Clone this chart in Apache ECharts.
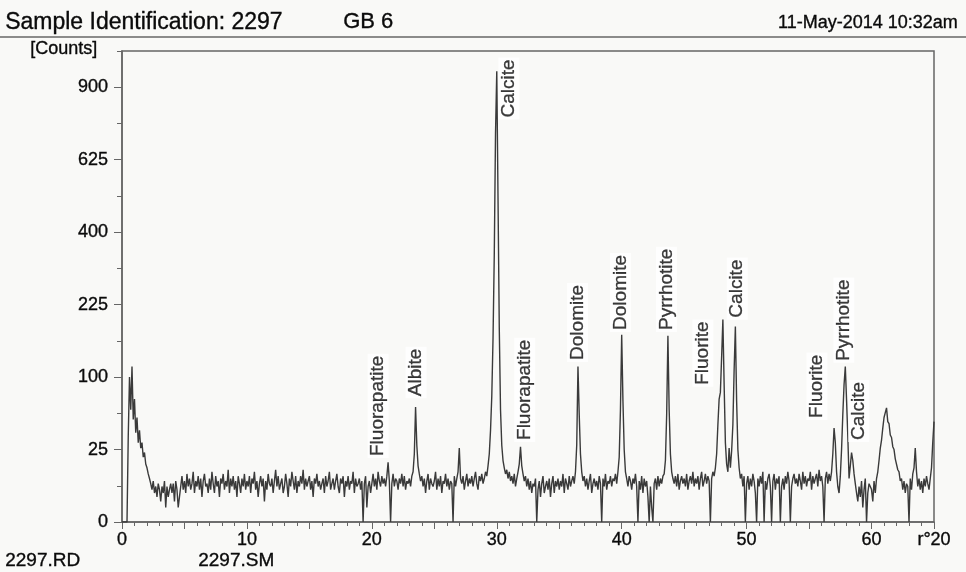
<!DOCTYPE html>
<html>
<head>
<meta charset="utf-8">
<script src="https://cdn.jsdelivr.net/npm/echarts@6/dist/echarts.min.js"></script>
<style>
html,body{margin:0;padding:0;background:#f9f9f7;}
#chart{width:966px;height:572px;}
</style>
</head>
<body>
<div id="chart"></div>
<script>
// 2-theta grid of the scan (degrees)
const twoThetaStart = 0;
const twoThetaStep = 0.1;
// intensity [counts], one value every 0.1 deg from 0.0 to 65.0
const counts = [
  0,0,0,0,0,35,100,60,115,50,
  72,38,52,30,40,26,30,20,23,16,
  14,11,9,7,5,8,4,6,3,7,
  5,2,6,4,8,1,6,3,5,7,
  4,7,2,8,5,1,3,6,10,5,
  8,4,11,6,9,5,7,12,4,8,
  6,10,5,9,3,8,11,6,7,4,
  9,5,12,7,4,10,6,8,3,9,
  7,11,5,8,6,13,4,9,6,10,
  5,8,3,10,7,4,9,6,11,5,
  8,6,10,4,9,7,12,5,8,3,
  7,10,6,9,2,8,5,11,7,6,
  9,4,8,13,6,10,5,7,9,4,
  6,11,7,3,9,6,12,8,5,10,
  4,8,6,10,7,13,5,9,6,8,
  10,5,8,3,9,7,11,6,8,5,
  7,9,4,10,6,8,12,5,7,9,
  5,8,11,6,4,9,7,10,3,8,
  6,10,5,8,7,12,4,9,6,7,
  9,5,8,0,7,10,1,6,8,4,
  7,11,6,9,5,12,8,6,10,7,
  9,6,10,17,8,0,7,11,6,9,
  8,5,9,7,11,6,10,5,8,7,
  9,6,10,12,22,63,28,15,11,8,
  10,6,9,4,8,11,5,9,7,6,
  8,12,5,9,6,10,4,8,7,11,
  6,9,5,8,7,0,10,6,9,12,
  26,9,7,10,5,8,11,6,9,7,
  10,6,9,12,7,5,10,8,11,7,
  9,12,10,15,22,40,75,160,340,720,
  967,500,180,60,28,18,14,11,13,9,
  12,8,10,7,11,6,9,12,16,27,
  15,11,8,10,6,9,5,8,4,7,
  6,9,0,5,8,3,7,10,4,6,
  8,5,9,3,7,10,4,8,6,9,
  5,8,6,11,4,9,7,5,10,6,
  8,10,7,12,28,115,55,22,12,8,
  10,6,9,5,8,11,4,7,9,6,
  8,5,10,7,0,9,6,11,5,8,
  7,10,6,9,8,11,7,12,20,60,
  167,70,25,12,9,6,10,8,5,9,
  7,11,6,0,8,5,10,4,9,6,
  8,3,0,6,1,0,7,9,5,10,
  6,9,7,10,11,18,55,165,60,22,
  12,9,7,10,6,11,5,8,10,7,
  9,6,11,5,8,10,7,12,6,9,
  7,10,5,9,12,6,8,11,7,10,
  8,0,9,12,10,14,22,45,72,80,
  130,195,90,30,16,12,26,14,24,45,
  110,182,70,25,14,9,11,6,10,0,
  7,10,5,9,6,11,8,4,0,9,
  6,10,7,12,0,8,5,9,11,6,
  0,8,11,5,9,7,10,0,6,9,
  5,10,7,12,8,0,6,9,11,7,
  9,6,11,8,5,12,7,10,6,9,
  8,12,5,10,7,9,11,6,13,8,
  10,6,0,9,12,7,11,8,12,22,
  42,30,12,6,4,10,25,55,90,115,
  71,35,9,15,23,18,11,7,4,2,
  6,3,8,1,5,9,0,4,7,6,
  5,2,8,4,9,12,18,26,32,42,
  52,57,62,48,46,36,34,27,25,19,
  18,13,12,8,9,5,8,4,7,6,
  0,9,5,11,14,26,12,6,9,5,
  8,4,9,6,10,7,5,9,14,30,
  48
];
// phase identifications: name, 2-theta of label, counts level at label foot
const phaseNames = ['Fluorapatite','Albite','Calcite','Fluorapatite','Dolomite','Dolomite','Pyrrhotite','Fluorite','Calcite','Fluorite','Pyrrhotite','Calcite'];
const phaseTheta = [20.5, 23.54, 30.97, 32.24, 36.47, 39.9, 43.58, 46.5, 49.25, 55.63, 57.78, 58.98];
const phaseCounts = [19.5, 73, 771, 30.5, 122, 172, 172, 87, 195, 49.6, 120.6, 30.5];
// axis ticks
const xTickLabels = [0, 10, 20, 30, 40, 50, 60];
const xEndLabel = 'r°20';
const yTickLabels = [0, 25, 100, 225, 400, 625, 900];

const FONT = 'Liberation Sans, Arial, Helvetica, sans-serif';
const INK = '#0a0a0a';
const chart = echarts.init(document.getElementById('chart'));

const profile = counts.map((c, i) => [+(twoThetaStart + i * twoThetaStep).toFixed(1), Math.sqrt(c)]);
const labelPts = phaseNames.map((n, i) => ({ name: n, value: [phaseTheta[i], Math.sqrt(phaseCounts[i])] }));

const X_MIN = 0, X_MAX = 65, Y_MAX = 32.5;
const axisColor = '#666';

const txt = (text, size, pos) => Object.assign({ type: 'text', style: { text: text, font: size + 'px ' + FONT, fill: INK, stroke: INK, lineWidth: 0.35 } }, pos);

chart.setOption({
  animation: false,
  backgroundColor: '#f9f9f7',
  grid: { left: 122, right: 32, top: 51, bottom: 50, show: true, borderColor: axisColor, borderWidth: 1.5, backgroundColor: 'transparent', outerBoundsMode: 'none' },
  xAxis: [
    {
      type: 'value', min: X_MIN, max: X_MAX, interval: 10, position: 'bottom',
      axisLine: { show: true, lineStyle: { color: axisColor, width: 1.5 } },
      axisTick: { show: true, inside: false, length: 7, lineStyle: { color: axisColor } },
      splitLine: { show: false },
      axisLabel: {
        show: true, margin: 9, color: INK, fontSize: 18, fontFamily: FONT, showMaxLabel: true, showMinLabel: true,
        textBorderColor: INK, textBorderWidth: 0.35,
        formatter: v => (v === X_MAX ? xEndLabel : (xTickLabels.indexOf(v) >= 0 ? String(v) : ''))
      }
    },
    {
      type: 'value', min: X_MIN, max: X_MAX, interval: 1, position: 'bottom',
      axisLine: { show: false }, axisLabel: { show: false }, splitLine: { show: false },
      axisTick: { show: true, length: 4, lineStyle: { color: axisColor } }
    },
    {
      type: 'value', min: X_MIN, max: X_MAX, interval: 5, position: 'bottom',
      axisLine: { show: false }, axisLabel: { show: false }, splitLine: { show: false },
      axisTick: { show: true, length: 7, lineStyle: { color: axisColor } }
    }
  ],
  yAxis: [
    {
      type: 'value', min: 0, max: Y_MAX, interval: 5, position: 'left',
      axisLine: { show: true, lineStyle: { color: axisColor, width: 1.5 } },
      axisTick: { show: true, length: 8, lineStyle: { color: axisColor } },
      splitLine: { show: false },
      axisLabel: {
        show: true, margin: 14, color: INK, fontSize: 18, fontFamily: FONT, showMaxLabel: false,
        textBorderColor: INK, textBorderWidth: 0.35,
        formatter: v => { const c = Math.round(v * v); return yTickLabels.indexOf(c) >= 0 && Math.abs(v - Math.round(v)) < 1e-6 ? String(c) : ''; }
      }
    },
    {
      type: 'value', min: 0, max: Y_MAX, interval: 2.5, position: 'left',
      axisLine: { show: false }, axisLabel: { show: false }, splitLine: { show: false },
      axisTick: { show: true, length: 5, lineStyle: { color: axisColor } }
    }
  ],
  series: [
    {
      type: 'line', xAxisIndex: 0, yAxisIndex: 0, data: profile, showSymbol: false, symbol: 'none',
      lineStyle: { color: '#3a3a3a', width: 1.4 }, silent: true, z: 2
    },
    {
      type: 'scatter', xAxisIndex: 0, yAxisIndex: 0, data: labelPts, symbolSize: 1,
      itemStyle: { color: 'rgba(0,0,0,0)' }, silent: true, z: 3,
      label: {
        show: true, formatter: '{b}', position: 'inside', rotate: 90, align: 'left', verticalAlign: 'middle',
        fontSize: 19, fontFamily: FONT, color: INK, textBorderColor: INK, textBorderWidth: 0.3,
        backgroundColor: '#ffffff', padding: [1, 2]
      }
    }
  ],
  graphic: [
    txt('Sample Identification: 2297', 23, { left: 5, top: 11 }),
    txt('GB 6', 22, { left: 343, top: 11 }),
    txt('11-May-2014 10:32am', 18, { right: 8, top: 14 }),
    { type: 'line', shape: { x1: 0, y1: 37, x2: 966, y2: 37 }, style: { stroke: '#666', lineWidth: 1.5 } },
    txt('[Counts]', 18, { left: 30, top: 40 }),
    txt('2297.RD', 19, { left: 5, top: 551 }),
    txt('2297.SM', 19, { left: 198, top: 551 })
  ]
});
</script>
</body>
</html>
